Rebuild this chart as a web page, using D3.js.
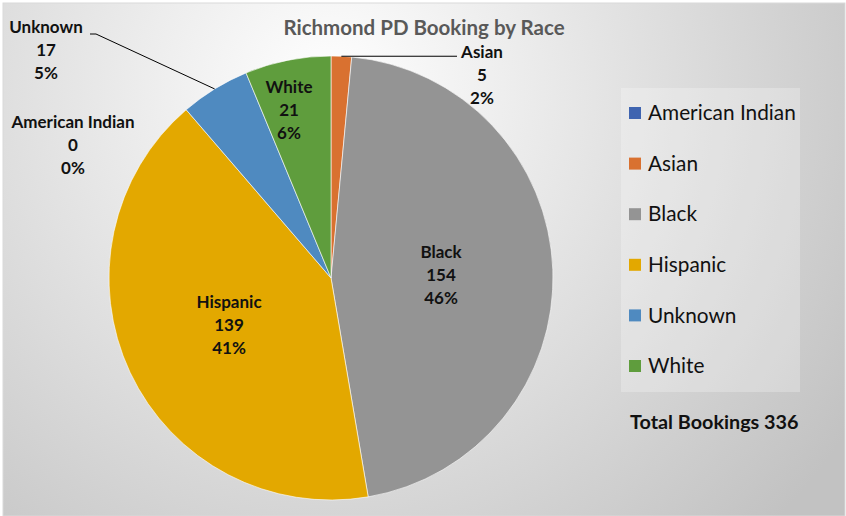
<!DOCTYPE html>
<html>
<head>
<meta charset="utf-8">
<script src="https://cdn.jsdelivr.net/npm/d3@7"></script>
<style>
  body { margin: 0; background: #fff; }
  svg { display: block; font-family: Lato, "Open Sans", sans-serif; }
</style>
</head>
<body>
<svg id="chart"></svg>
<script>
// ------ données ------
const races = ["American Indian", "Asian", "Black", "Hispanic", "Unknown", "White"]
const bookings = [0, 5, 154, 139, 17, 21]
const pctLabels = ["0%", "2%", "46%", "41%", "5%", "6%"]
const colors = ["#3f64b0", "#d97130", "#949494", "#e3a800", "#4f8ac0", "#5f9d3d"]
const title = "Richmond PD Booking by Race"

const total = d3.sum(bookings)

// taille
const width = 846, height = 516
const svg = d3.select("#chart").attr("width", width).attr("height", height)

// fond dégradé
const defs = svg.append("defs")
const grad = defs.append("radialGradient").attr("id", "bg")
    .attr("gradientUnits", "userSpaceOnUse")
    .attr("cx", 330).attr("cy", 90).attr("r", 620)
grad.append("stop").attr("offset", "0%").attr("stop-color", "#ffffff")
grad.append("stop").attr("offset", "100%").attr("stop-color", "#c2c2c2")

svg.append("rect").attr("x", 0).attr("y", 0).attr("width", width).attr("height", height).attr("fill", "#fff")
svg.append("rect").attr("x", 3).attr("y", 3).attr("width", width - 4).attr("height", height - 3)
    .attr("fill", "url(#bg)").attr("stroke", "#d9d9d9").attr("stroke-width", 1)

// titre
svg.append("text").attr("x", 424).attr("y", 35)
    .attr("text-anchor", "middle").attr("font-size", 20.5).attr("font-weight", "bold")
    .attr("fill", "#595959").text(title)

// ------ camembert ------
const cx = 331, cy = 278, r = 222
const pie = d3.pie().sort(null).value(d => d)
const arcs = pie(bookings)
const arc = d3.arc().innerRadius(0).outerRadius(r)

const g = svg.append("g").attr("transform", `translate(${cx},${cy})`)
g.selectAll("path")
    .data(arcs)
    .enter()
    .append("path")
    .attr("d", arc)
    .attr("fill", (d, i) => colors[i])
    .attr("stroke", "#ffffff")
    .attr("stroke-width", 0.6)

// étiquettes (position du bloc de texte)
const labelPos = [
    { x: 73, y: 122 },   // American Indian
    { x: 482, y: 52 },   // Asian
    { x: 441, y: 252 },  // Black
    { x: 229, y: 302 },  // Hispanic
    { x: 46, y: 27 },    // Unknown
    { x: 289, y: 87 }    // White
]

arcs.forEach((d, i) => {
    const t = svg.append("text")
        .attr("text-anchor", "middle")
        .attr("font-size", 17).attr("font-weight", "bold").attr("fill", "#111")
    const lines = [races[i], bookings[i], pctLabels[i]]
    lines.forEach((l, k) => {
        t.append("tspan").attr("x", labelPos[i].x).attr("y", labelPos[i].y + k * 22.8)
            .attr("dy", "0.35em").text(l)
    })
})

// lignes de rappel
const polar = (a, rr) => [cx + rr * Math.sin(a), cy - rr * Math.cos(a)]
const asianMid = polar((arcs[1].startAngle + arcs[1].endAngle) / 2, r)
svg.append("polyline")
    .attr("points", [asianMid, [457, asianMid[1]]].map(p => p.join(",")).join(" "))
    .attr("fill", "none").attr("stroke", "#000").attr("stroke-width", 1)
const unkMid = polar((arcs[4].startAngle + arcs[4].endAngle) / 2, r)
svg.append("polyline")
    .attr("points", [[90, 34], [96, 34], unkMid].map(p => p.join(",")).join(" "))
    .attr("fill", "none").attr("stroke", "#000").attr("stroke-width", 1)

// ------ légende ------
const legend = svg.append("g")
legend.append("rect").attr("x", 621).attr("y", 88).attr("width", 179).attr("height", 304)
    .attr("fill", "#ffffff").attr("fill-opacity", 0.25)
const ly = d3.scalePoint().domain(races).range([113, 366])
races.forEach((name, i) => {
    legend.append("rect").attr("x", 629).attr("y", ly(name) - 6).attr("width", 12).attr("height", 12)
        .attr("fill", colors[i])
    legend.append("text").attr("x", 648).attr("y", ly(name)).attr("dy", "0.35em")
        .attr("font-size", 20.8).attr("fill", "#111").text(name)
})

svg.append("text").attr("x", 630).attr("y", 422).attr("dy", "0.35em")
    .attr("font-size", 19.8).attr("font-weight", "bold").attr("fill", "#111")
    .text("Total Bookings " + total)
</script>
</body>
</html>
